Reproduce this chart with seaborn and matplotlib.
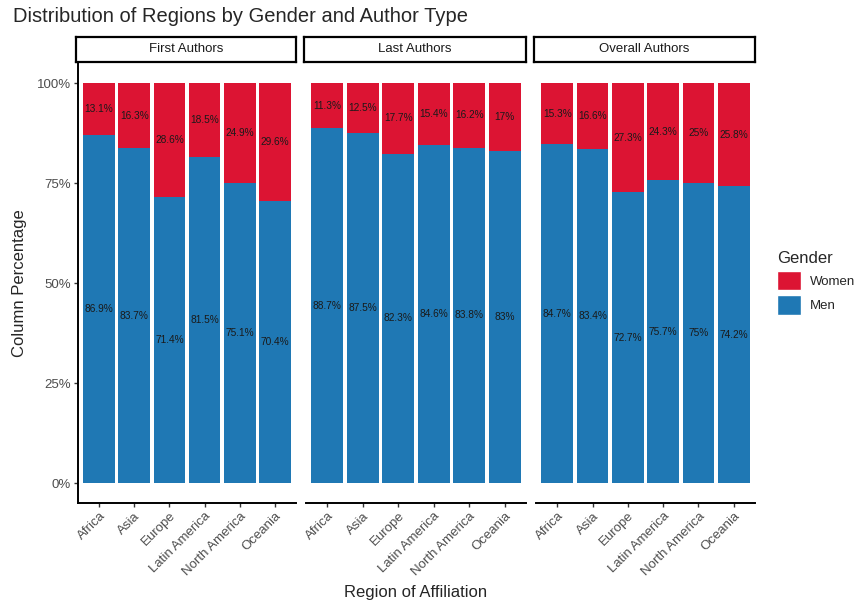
import numpy as np
import pandas as pd
import matplotlib
matplotlib.use('Agg')
import matplotlib.pyplot as plt
from matplotlib.patches import Patch
import seaborn as sns

sns.set_style('white')
plt.rcParams['font.family'] = ['Liberation Sans', 'DejaVu Sans']

# Data
regions = ['Africa', 'Asia', 'Europe', 'Latin America', 'North America', 'Oceania']
author_types = ['First Authors', 'Last Authors', 'Overall Authors']
men_first = [86.9, 83.7, 71.4, 81.5, 75.1, 70.4]
women_first = [13.1, 16.3, 28.6, 18.5, 24.9, 29.6]
men_last = [88.7, 87.5, 82.3, 84.6, 83.8, 83.0]
women_last = [11.3, 12.5, 17.7, 15.4, 16.2, 17.0]
men_overall = [84.7, 83.4, 72.7, 75.7, 75.0, 74.2]
women_overall = [15.3, 16.6, 27.3, 24.3, 25.0, 25.8]

men_lbl = {'First Authors': men_first, 'Last Authors': men_last, 'Overall Authors': men_overall}
women_lbl = {'First Authors': women_first, 'Last Authors': women_last, 'Overall Authors': women_overall}

rows = []
for t in author_types:
    for r, m, w in zip(regions, men_lbl[t], women_lbl[t]):
        rows.append({'type': t, 'region': r, 'men': m / 100, 'women': w / 100})
df = pd.DataFrame(rows)

red = '#DC1433'
blue = '#1F78B4'
grey = '#4D4D4D'

fig = plt.figure(figsize=(8.57, 6.07), dpi=100)
W, H = 857, 607

panels = [(78, 296), (306, 526), (536, 755)]
top, bottom = 63, 503

def fmt(v):
    s = f'{v:.1f}'.rstrip('0').rstrip('.')
    return s + '%'

for i, t in enumerate(author_types):
    x0, x1 = panels[i]
    ax = fig.add_axes([x0 / W, 1 - bottom / H, (x1 - x0) / W, (bottom - top) / H])
    sub = df[df['type'] == t].copy()
    sub['total'] = sub['men'] + sub['women']
    # stacked: full bar in red, men drawn over it
    sns.barplot(data=sub, x='region', y='total', color=red, width=0.9,
                linewidth=0, saturation=1, ax=ax, order=regions)
    sns.barplot(data=sub, x='region', y='men', color=blue, width=0.9,
                linewidth=0, saturation=1, ax=ax, order=regions)
    for j, r in enumerate(regions):
        row = sub[sub['region'] == r].iloc[0]
        ax.text(j, row['men'] / 2, fmt(men_lbl[t][j]), ha='center', va='center',
                fontsize=7.3, color='#1a1a1a')
        ax.text(j, row['men'] + row['women'] / 2, fmt(women_lbl[t][j]), ha='center',
                va='center', fontsize=7.3, color='#1a1a1a')
    ax.set_xlim(-0.6, 5.6)
    ax.set_ylim(-0.05, 1.05)
    ax.set_xlabel('')
    ax.set_ylabel('')
    for s in ['top', 'right']:
        ax.spines[s].set_visible(False)
    ax.spines['bottom'].set_linewidth(1.4)
    ax.spines['bottom'].set_color('black')
    ax.set_xticks(range(len(regions)))
    ax.set_xticklabels(regions, rotation=45, ha='right', rotation_mode='anchor',
                       fontsize=9.5, color=grey)
    ax.tick_params(axis='x', length=3, width=1, color='#333333', bottom=True, pad=2)
    if i == 0:
        ax.spines['left'].set_linewidth(1.4)
        ax.spines['left'].set_color('black')
        ax.set_yticks([0, 0.25, 0.5, 0.75, 1.0])
        ax.set_yticklabels(['0%', '25%', '50%', '75%', '100%'], fontsize=9.5, color=grey)
        ax.tick_params(axis='y', length=3, width=1, color='#333333', left=True, pad=2)
    else:
        ax.spines['left'].set_visible(False)
        ax.set_yticks([])
    # facet strip
    sax = fig.add_axes([(x0 - 2) / W, 1 - 62 / H, (x1 - x0 + 2) / W, 25 / H])
    sax.set_xticks([])
    sax.set_yticks([])
    for s in sax.spines.values():
        s.set_linewidth(1.6)
        s.set_color('black')
    sax.text(0.5, 0.5, t, ha='center', va='center', fontsize=9.5, color='#1a1a1a',
             transform=sax.transAxes)

fig.text(13 / W, 1 - 17 / H, 'Distribution of Regions by Gender and Author Type',
         fontsize=14.5, ha='left', va='center')
fig.text(20 / W, 1 - 283 / H, 'Column Percentage', rotation=90, fontsize=12,
         ha='center', va='center')
fig.text(416 / W, 1 - 592 / H, 'Region of Affiliation', fontsize=12,
         ha='center', va='center')

handles = [Patch(facecolor=red, edgecolor='white', label='Women'),
           Patch(facecolor=blue, edgecolor='white', label='Men')]
leg = fig.legend(handles=handles, title='Gender', loc='upper left',
                 bbox_to_anchor=(772 / W, 1 - 246 / H), frameon=False, fontsize=9.5,
                 title_fontsize=12, handlelength=1.8, handleheight=1.9,
                 handletextpad=0.7, labelspacing=0.35, borderaxespad=0)
leg._legend_box.align = 'left'

fig.savefig('out.png', dpi=100)
